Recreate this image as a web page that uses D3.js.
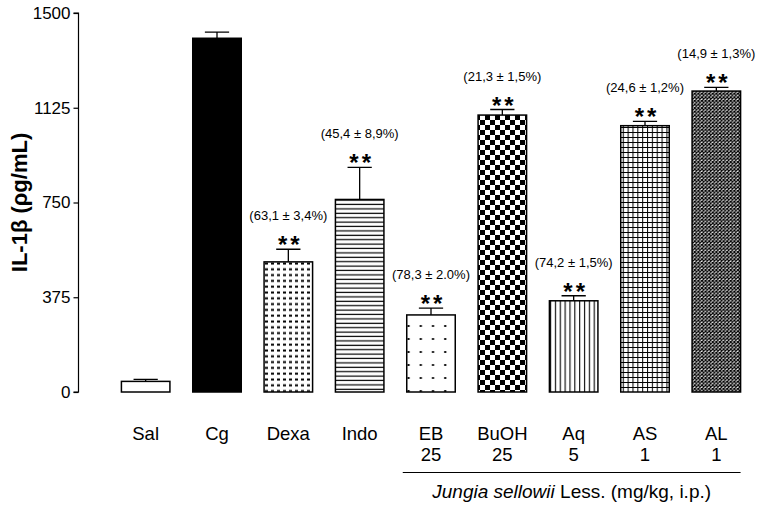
<!DOCTYPE html>
<html>
<head>
<meta charset="utf-8">
<script src="https://cdn.jsdelivr.net/npm/d3@7/dist/d3.min.js"></script>
<style>
  html, body { margin: 0; padding: 0; background: #fff; }
  svg { display: block; }
  text { font-family: "Liberation Sans", Arial, sans-serif; fill: #000; }
</style>
</head>
<body>
<svg id="chart" width="760" height="508"></svg>
<script>
// ---- data ----
const categories = ["Sal", "Cg", "Dexa", "Indo", "EB", "BuOH", "Aq", "AS", "AL"];
const doses      = ["", "", "", "", "25", "25", "5", "1", "1"];
const means      = [42, 1400, 515, 762, 305, 1096, 361, 1054, 1191];
const errors     = [8, 24, 50, 127, 27, 22, 20, 17, 15];
const significance = ["", "", "**", "**", "**", "**", "**", "**", "**"];
const inhibition = ["", "", "(63,1 \u00B1 3,4%)", "(45,4 \u00B1 8,9%)", "(78,3 \u00B1 2.0%)",
                    "(21,3 \u00B1 1,5%)", "(74,2 \u00B1 1,5%)", "(24,6 \u00B1 1,2%)", "(14,9 \u00B1 1,3%)"];
const fills      = ["white", "black", "p-dots", "p-hlines", "p-sparse", "p-checker", "p-vlines", "p-grid", "p-diag"];
const yTicks     = [0, 375, 750, 1125, 1500];
const groupCats  = ["EB", "BuOH", "Aq", "AS", "AL"];
const yTitle     = "IL-1\u03B2 (\u03C1g/mL)";

// ---- setup ----
const svg = d3.select("#chart");
const x = d3.scaleBand().domain(categories).range([110, 752]).paddingInner(0.32).paddingOuter(0.16);
const y = d3.scaleLinear().domain([0, 1500]).range([392, 13]);

// ---- patterns ----
const defs = svg.append("defs");
function pat(id, w, h) {
  const p = defs.append("pattern").attr("id", id).attr("patternUnits", "userSpaceOnUse")
    .attr("width", w).attr("height", h);
  p.append("rect").attr("width", w).attr("height", h).attr("fill", "white");
  return p;
}
let p;
p = pat("p-dots", 6, 5.8);
p.append("rect").attr("x", 1).attr("y", 1.5).attr("width", 3).attr("height", 2).attr("fill", "black");
p = pat("p-hlines", 10, 4.4);
p.append("rect").attr("x", 0).attr("y", 1.5).attr("width", 10).attr("height", 1.2).attr("fill", "black");
p = pat("p-sparse", 12.2, 13);
p.append("rect").attr("x", 5).attr("y", 0).attr("width", 2).attr("height", 2).attr("fill", "black");
p = pat("p-checker", 10, 10);
p.append("rect").attr("x", 0).attr("y", 0).attr("width", 5).attr("height", 5).attr("fill", "black");
p.append("rect").attr("x", 5).attr("y", 5).attr("width", 5).attr("height", 5).attr("fill", "black");
p = pat("p-vlines", 4.85, 10);
p.append("rect").attr("x", 2).attr("y", 0).attr("width", 1.1).attr("height", 10).attr("fill", "black");
p = pat("p-grid", 4.85, 5);
p.append("rect").attr("x", 2).attr("y", 0).attr("width", 1).attr("height", 5).attr("fill", "black");
p.append("rect").attr("x", 0).attr("y", 2).attr("width", 4.85).attr("height", 1).attr("fill", "black");
p = pat("p-diag", 3.6, 3.6);
p.append("path").attr("d", "M0,0 L3.6,3.6 M3.6,0 L0,3.6").attr("stroke", "black").attr("stroke-width", 1.2);

const data = categories.map((c, i) => ({
  cat: c, dose: doses[i], mean: means[i], err: errors[i],
  sig: significance[i], inh: inhibition[i], fill: fills[i]
}));

// ---- y axis ----
const yAxis = d3.axisLeft(y).tickValues(yTicks).tickSize(5).tickPadding(3).tickFormat(d3.format("d"));
const gy = svg.append("g").attr("transform", "translate(78.5,0)").call(yAxis);
gy.select(".domain").attr("stroke", "black").attr("stroke-width", 1.2).attr("d", `M-5,${y(1500)}H0V${y(0)}H-5`);
gy.selectAll(".tick line").attr("stroke", "black").attr("stroke-width", 1.2);
gy.selectAll(".tick text").attr("font-size", 17).attr("font-family", "'Liberation Sans', Arial, sans-serif").attr("fill", "black");

svg.append("text")
  .attr("transform", `translate(27,${(y(0) + y(1500)) / 2}) rotate(-90)`)
  .attr("text-anchor", "middle")
  .attr("font-size", 22).attr("font-weight", "bold")
  .text(yTitle);

// ---- bars ----
const bw = x.bandwidth();
const g = svg.append("g");
// error bars
g.selectAll(".err").data(data).join("path")
  .attr("class", "err")
  .attr("d", d => {
    const cx = x(d.cat) + bw / 2, top = y(d.mean + d.err), half = bw / 4;
    return `M${cx},${y(d.mean)}V${top}M${cx - half},${top}H${cx + half}`;
  })
  .attr("stroke", "black").attr("stroke-width", 1.3).attr("fill", "none");

g.selectAll(".bar").data(data).join("rect")
  .attr("class", "bar")
  .attr("x", d => x(d.cat))
  .attr("y", d => y(d.mean))
  .attr("width", bw)
  .attr("height", d => y(0) - y(d.mean))
  .attr("fill", d => d.fill.startsWith("p-") ? `url(#${d.fill})` : d.fill)
  .attr("stroke", "black").attr("stroke-width", 1.5);

// significance stars
g.selectAll(".sig").data(data.filter(d => d.sig)).join("text")
  .attr("class", "sig")
  .attr("x", d => x(d.cat) + bw / 2 + 2)
  .attr("y", d => y(d.mean + d.err) + 4)
  .attr("text-anchor", "middle")
  .attr("font-size", 24).attr("font-weight", "bold").attr("letter-spacing", 3)
  .text(d => d.sig);

// inhibition labels
g.selectAll(".inh").data(data.filter(d => d.inh)).join("text")
  .attr("class", "inh")
  .attr("x", d => x(d.cat) + bw / 2)
  .attr("y", d => y(d.mean + d.err) - 29)
  .attr("text-anchor", "middle")
  .attr("font-size", 13)
  .text(d => d.inh);

// ---- category labels ----
const lab = svg.append("g").selectAll("text").data(data).join("text")
  .attr("x", d => x(d.cat) + bw / 2)
  .attr("y", 440)
  .attr("text-anchor", "middle")
  .attr("font-size", 18.5);
lab.append("tspan").attr("x", d => x(d.cat) + bw / 2).text(d => d.cat);
lab.filter(d => d.dose).append("tspan").attr("x", d => x(d.cat) + bw / 2).attr("dy", 21).text(d => d.dose);

// group bracket line
const gx0 = x(groupCats[0]) - 4, gx1 = x(groupCats[groupCats.length - 1]) + bw;
svg.append("line").attr("x1", gx0).attr("x2", gx1).attr("y1", 472.5).attr("y2", 472.5)
  .attr("stroke", "black").attr("stroke-width", 1.1);
const gl = svg.append("text").attr("x", (gx0 + gx1) / 2).attr("y", 498)
  .attr("text-anchor", "middle").attr("font-size", 19);
gl.append("tspan").attr("font-style", "italic").text("Jungia sellowii");
gl.append("tspan").text(" Less. (mg/kg, i.p.)");
</script>
</body>
</html>
